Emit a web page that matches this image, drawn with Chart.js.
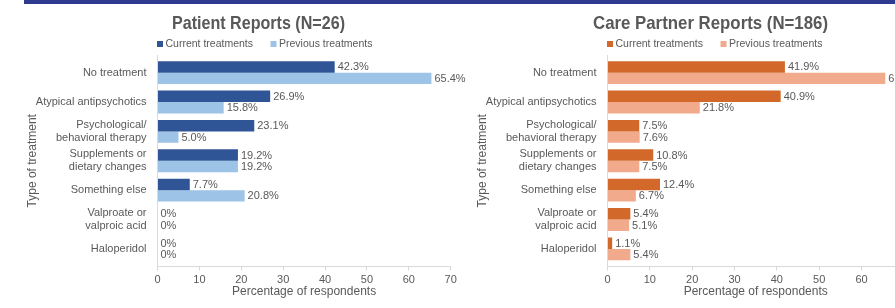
<!DOCTYPE html>
<html><head><meta charset="utf-8">
<script src="https://cdn.jsdelivr.net/npm/chart.js@4.4.1/dist/chart.umd.min.js"></script>
<style>
html,body{margin:0;padding:0;background:#fff;}
body{width:895px;height:308px;overflow:hidden;position:relative;}
#topbar{position:absolute;left:24px;top:0;width:871px;height:4px;background:#2E3A8F;}
canvas{position:absolute;top:0;}
#c1{left:0;}
#c2{left:450px;}
</style></head><body>
<div id="topbar"></div>
<canvas id="c1" width="470" height="308"></canvas>
<canvas id="c2" width="470" height="308"></canvas>
<script>
// ---- data ----
const categories = [
  'No treatment',
  'Atypical antipsychotics',
  ['Psychological/', 'behavioral therapy'],
  ['Supplements or', 'dietary changes'],
  'Something else',
  ['Valproate or', 'valproic acid'],
  'Haloperidol'
];
const seriesNames = ['Current treatments', 'Previous treatments'];
const patientCurrent  = [42.3, 26.9, 23.1, 19.2, 7.7, 0, 0];
const patientPrevious = [65.4, 15.8, 5.0, 19.2, 20.8, 0, 0];
const partnerCurrent  = [41.9, 40.9, 7.5, 10.8, 12.4, 5.4, 1.1];
const partnerPrevious = [65.6, 21.8, 7.6, 7.5, 6.7, 5.1, 5.4];
const xTickValues = [0, 10, 20, 30, 40, 50, 60, 70];
const patientTitle = 'Patient Reports (N=26)';
const partnerTitle = 'Care Partner Reports (N=186)';
const yAxisTitle = 'Type of treatment';
const xAxisTitle = 'Percentage of respondents';

const FONT = '"Liberation Sans", Arial, sans-serif';
const TEXT = '#595959';
const LINE = '#d9d9d9';
Chart.defaults.font.family = FONT;
Chart.defaults.color = TEXT;

const headerPlugin = {
  id: 'header',
  afterDraw(chart, args, opts) {
    const ctx = chart.ctx;
    const left = chart.chartArea.left;
    ctx.save();
    ctx.font = 'bold 18.5px ' + FONT;
    ctx.fillStyle = TEXT;
    ctx.textBaseline = 'middle';
    ctx.textAlign = 'center';
    const w = ctx.measureText(opts.text).width;
    ctx.translate(opts.x, opts.y);
    ctx.scale(opts.width / w, 1);
    ctx.fillText(opts.text, 0, 0);
    ctx.restore();

    ctx.save();
    ctx.font = '10.5px ' + FONT;
    ctx.textBaseline = 'middle';
    ctx.textAlign = 'left';
    let x = left - 0.5;
    const y = opts.legendY;
    chart.data.datasets.forEach(ds => {
      ctx.fillStyle = ds.backgroundColor;
      ctx.fillRect(x, y - 3, 6, 6);
      ctx.fillStyle = TEXT;
      ctx.fillText(ds.label, x + 8.5, y);
      x += 8.5 + ctx.measureText(ds.label).width + 17.5;
    });
    ctx.restore();
  }
};

const valueLabels = {
  id: 'valueLabels',
  afterDatasetsDraw(chart) {
    const ctx = chart.ctx;
    ctx.save();
    ctx.font = '11px ' + FONT;
    ctx.fillStyle = TEXT;
    ctx.textAlign = 'left';
    ctx.textBaseline = 'middle';
    chart.data.datasets.forEach((ds, i) => {
      const meta = chart.getDatasetMeta(i);
      meta.data.forEach((bar, j) => {
        const v = ds.data[j].x;
        const t = v === 0 ? '0%' : v.toFixed(1) + '%';
        ctx.fillText(t, bar.x + 3, bar.y + 0.5);
      });
    });
    ctx.restore();
  }
};

function makeChart(id, title, titleX, titleWidth, cur, prev, colors, padRight) {
  const toPts = arr => arr.map((v, i) => ({x: v, y: i}));
  return new Chart(document.getElementById(id), {
    type: 'bar',
    data: {
      datasets: [
        {label: seriesNames[0], data: toPts(cur), backgroundColor: colors[0]},
        {label: seriesNames[1], data: toPts(prev), backgroundColor: colors[1]}
      ]
    },
    options: {
      indexAxis: 'y',
      responsive: false,
      animation: false,
      events: [],
      layout: {padding: {top: 55, right: padRight, bottom: 0, left: 0}},
      datasets: {bar: {categoryPercentage: 0.775, barPercentage: 1.0}},
      scales: {
        y: {
          type: 'linear',
          reverse: true,
          offset: false,
          min: -0.6,
          max: categories.length - 0.4,
          bounds: 'data',
          afterBuildTicks: s => { s.ticks = categories.map((_, i) => ({value: i})); },
          afterFit: s => { s.width = 157.5; },
          ticks: {
            autoSkip: false,
            padding: 3,
            color: TEXT,
            font: {size: 11, lineHeight: 1.15},
            callback: v => categories[v]
          },
          grid: {display: false, offset: false},
          border: {display: true, color: LINE, width: 1},
          title: {display: true, text: yAxisTitle, color: TEXT, font: {size: 12, lineHeight: 1.2}, padding: {top: 25.8, bottom: 0}}
        },
        x: {
          type: 'linear',
          min: xTickValues[0],
          max: xTickValues[xTickValues.length - 1],
          afterBuildTicks: s => { s.ticks = xTickValues.map(v => ({value: v})); },
          afterFit: s => { s.height = 41.5; },
          ticks: {padding: 3, color: TEXT, font: {size: 11}},
          grid: {display: true, drawOnChartArea: false, drawTicks: true, tickLength: 4, color: LINE},
          border: {display: true, color: LINE, width: 1},
          title: {display: true, text: xAxisTitle, color: TEXT, font: {size: 12, lineHeight: 1.2}, padding: {top: 0, bottom: 8.8}}
        }
      },
      plugins: {
        legend: {display: false},
        tooltip: {enabled: false},
        header: {text: title, x: titleX, y: 23.5, width: titleWidth, legendY: 44}
      }
    },
    plugins: [headerPlugin, valueLabels]
  });
}

makeChart('c1', patientTitle, 258.5, 173, patientCurrent, patientPrevious, ['#2F5597', '#9DC3E6'], 19.3);
makeChart('c2', partnerTitle, 260.5, 235, partnerCurrent, partnerPrevious, ['#D2692A', '#F2AA8C'], 16.1);
</script>
</body></html>
